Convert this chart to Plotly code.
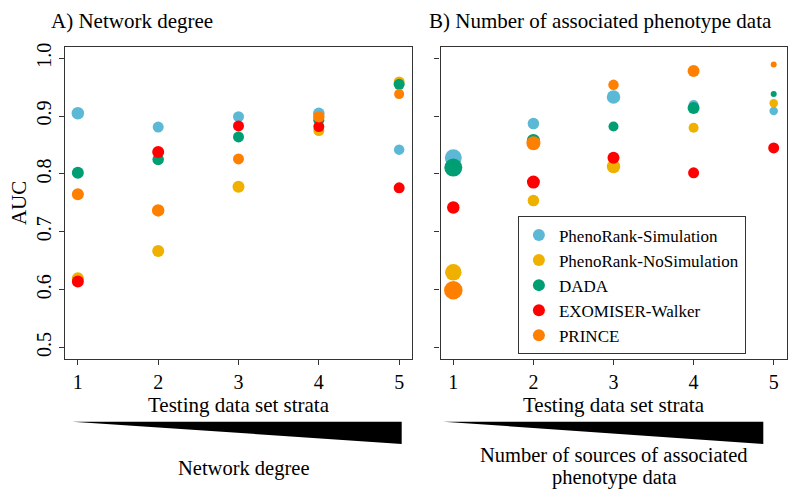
import plotly.graph_objects as go

# ---------------- data ----------------
strata = [1, 2, 3, 4, 5]
methods = ["PhenoRank-Simulation", "PhenoRank-NoSimulation", "DADA", "EXOMISER-Walker", "PRINCE"]
colors = ["#5BB9D6", "#F0B000", "#009E73", "#FF0000", "#FF8000"]

# Panel A: AUC by network-degree strata
auc_degree = {
    "PhenoRank-Simulation":   [0.905, 0.881, 0.899, 0.905, 0.842],
    "PhenoRank-NoSimulation": [0.620, 0.667, 0.778, 0.875, 0.959],
    "DADA":                   [0.802, 0.825, 0.864, 0.893, 0.955],
    "EXOMISER-Walker":        [0.614, 0.838, 0.883, 0.882, 0.776],
    "PRINCE":                 [0.765, 0.737, 0.826, 0.899, 0.938],
}
# Panel B: AUC by number of associated phenotype data strata
auc_pheno = {
    "PhenoRank-Simulation":   [0.828, 0.887, 0.933, 0.919, 0.909],
    "PhenoRank-NoSimulation": [0.630, 0.754, 0.813, 0.880, 0.922],
    "DADA":                   [0.811, 0.858, 0.882, 0.914, 0.938],
    "EXOMISER-Walker":        [0.742, 0.786, 0.828, 0.802, 0.845],
    "PRINCE":                 [0.599, 0.853, 0.954, 0.978, 0.989],
}
# marker diameters (px)
size_degree = {
    "PhenoRank-Simulation":   [12.5, 11, 11, 11.5, 10.5],
    "PhenoRank-NoSimulation": [12, 12, 12, 11, 11],
    "DADA":                   [12, 11.5, 11, 11, 11],
    "EXOMISER-Walker":        [12, 12, 11, 11, 11],
    "PRINCE":                 [12, 12.5, 11, 11.5, 10],
}
size_pheno = {
    "PhenoRank-Simulation":   [17, 11.5, 13.5, 10, 8.5],
    "PhenoRank-NoSimulation": [16.5, 11.5, 13.5, 10, 8.5],
    "DADA":                   [18, 13, 10, 12, 6],
    "EXOMISER-Walker":        [12.5, 13, 12, 11, 11],
    "PRINCE":                 [18.5, 14, 10.5, 12, 6],
}
y_ticks = [0.5, 0.6, 0.7, 0.8, 0.9, 1.0]

FONT = "Liberation Serif, Times New Roman, serif"
W, H = 800, 500

fig = go.Figure()
for m, c in zip(methods, colors):
    fig.add_trace(go.Scatter(x=strata, y=auc_degree[m], mode="markers", name=m,
                             marker=dict(color=c, size=size_degree[m], opacity=1, line=dict(width=0)),
                             xaxis="x", yaxis="y", showlegend=False))
for m, c in zip(methods, colors):
    fig.add_trace(go.Scatter(x=strata, y=auc_pheno[m], mode="markers", name=m,
                             marker=dict(color=c, size=size_pheno[m], opacity=1, line=dict(width=0)),
                             xaxis="x2", yaxis="y2", showlegend=True))

def px_x(p):
    return p / W

def px_y(p):
    return 1 - p / H

axcol = "#333333"
common_x = dict(range=[0.84, 5.16], tickvals=strata, ticks="outside", ticklen=5, tickwidth=1.2,
                tickcolor=axcol, showline=True, linecolor=axcol, linewidth=1.2, mirror=True,
                showgrid=False, zeroline=False, tickfont=dict(size=20, family=FONT, color="black"),
                title=dict(text="Testing data set strata", font=dict(size=21, family=FONT, color="black"),
                           standoff=0))
common_y = dict(range=[0.48, 1.02], tickvals=y_ticks, ticktext=[f"{v:.1f}" for v in y_ticks],
                ticks="outside", ticklen=5, tickwidth=1.2, tickcolor=axcol, showline=True,
                linecolor=axcol, linewidth=1.2, mirror=True, showgrid=False, zeroline=False,
                tickangle=-90, tickfont=dict(size=20, family=FONT, color="black"),
                domain=[px_y(358), px_y(43)])

fig.update_layout(
    width=W, height=H,
    margin=dict(l=0, r=0, t=0, b=0),
    paper_bgcolor="white", plot_bgcolor="white",
    font=dict(family=FONT, size=20, color="black"),
    xaxis=dict(common_x, domain=[px_x(65), px_x(412)], anchor="y"),
    yaxis=dict(common_y, anchor="x",
               title=dict(text="AUC", font=dict(size=21, family=FONT, color="black"), standoff=0)),
    xaxis2=dict(common_x, domain=[px_x(440.5), px_x(786.5)], anchor="y2"),
    yaxis2=dict(common_y, anchor="x2", showticklabels=False),
    legend=dict(x=px_x(517.7), y=px_y(353), xanchor="left", yanchor="bottom",
                bordercolor=axcol, borderwidth=1.2, bgcolor="white",
                font=dict(family=FONT, size=17, color="black"),
                itemsizing="constant", tracegroupgap=0),
)

# panel titles
fig.add_annotation(text="A) Network degree", x=px_x(49), y=px_y(17), xref="paper", yref="paper",
                   xanchor="left", yanchor="middle", showarrow=False,
                   font=dict(size=21, family=FONT, color="black"))
fig.add_annotation(text="B) Number of associated phenotype data", x=px_x(427), y=px_y(17),
                   xref="paper", yref="paper", xanchor="left", yanchor="middle", showarrow=False,
                   font=dict(size=21, family=FONT, color="black"))

# gradient wedges below the axes
def wedge(x0, x1, ytop, ybot):
    return (f"M {px_x(x0)} {px_y(ytop)} L {px_x(x1)} {px_y(ytop)} "
            f"L {px_x(x1)} {px_y(ybot)} Z")

for (x0, x1) in [(72.3, 401.7), (443.3, 763.3)]:
    fig.add_shape(type="path", path=wedge(x0, x1, 421, 443.5), xref="paper", yref="paper",
                  fillcolor="black", line=dict(width=0))

fig.add_annotation(text="Network degree", x=px_x(243), y=px_y(468), xref="paper", yref="paper",
                   xanchor="center", yanchor="middle", showarrow=False,
                   font=dict(size=20.5, family=FONT, color="black"))
for txt, yy in [("Number of sources of associated", 455), ("phenotype data", 477)]:
    fig.add_annotation(text=txt, x=px_x(614), y=px_y(yy), xref="paper", yref="paper",
                       xanchor="center", yanchor="middle", showarrow=False,
                       font=dict(size=20.5, family=FONT, color="black"))

fig.write_html("out.html", config={"displayModeBar": False},
               post_script="document.body.style.margin='0';")
